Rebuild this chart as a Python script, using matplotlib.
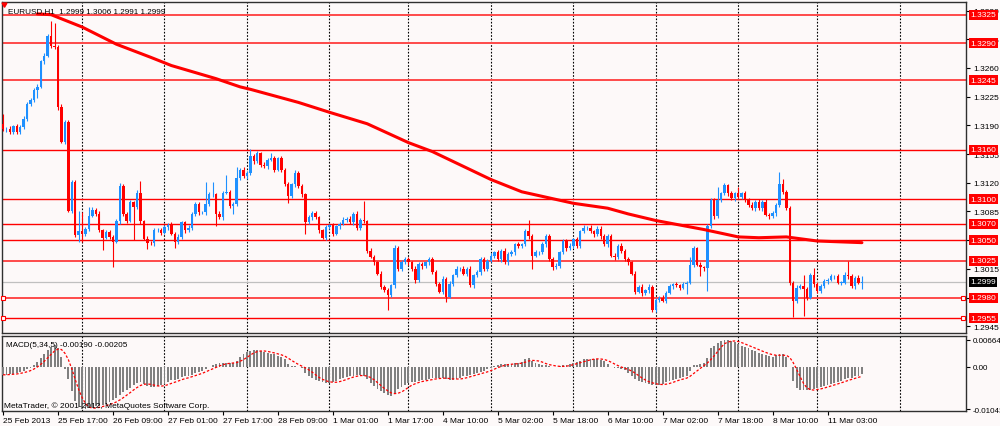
import numpy as np
import pandas as pd
import matplotlib
matplotlib.use('Agg')
import matplotlib.pyplot as plt
from matplotlib import rcParams

rcParams['font.family'] = ['Liberation Sans', 'DejaVu Sans']
rcParams['font.size'] = 6

######################################
# data (EURUSD H1)
# prices are in pips above 1.2900
######################################
base = 1.2900
first_open = 292

closes = [285, 286, 282, 289, 282, 288, 298, 316, 321, 333,
          337, 368, 375, 399, 387, 385, 312, 270, 294, 186,
          221, 156, 161, 157, 164, 180, 187, 182, 162, 153,
          160, 154, 148, 173, 216, 182, 174, 196, 190, 208,
          173, 152, 147, 146, 162, 163, 159, 166, 169, 158,
          148, 154, 172, 162, 165, 182, 194, 184, 184, 194,
          206, 206, 182, 178, 208, 209, 192, 194, 226, 236,
          228, 232, 253, 246, 256, 242, 240, 248, 250, 236,
          250, 236, 218, 204, 218, 232, 216, 206, 172, 178,
          183, 178, 162, 153, 166, 168, 158, 167, 170, 175,
          176, 172, 182, 165, 175, 173, 137, 130, 123, 109,
          93, 89, 83, 95, 141, 115, 123, 127, 123, 115,
          101, 121, 118, 123, 127, 111, 97, 87, 103, 81,
          97, 107, 115, 115, 109, 115, 95, 107, 111, 127,
          115, 125, 131, 135, 127, 137, 123, 133, 135, 145,
          143, 145, 161, 155, 131, 135, 135, 145, 155, 127,
          117, 119, 135, 149, 140, 143, 151, 143, 161, 165,
          165, 161, 157, 164, 155, 145, 155, 131, 129, 143,
          137, 127, 123, 109, 87, 93, 85, 89, 93, 65,
          77, 80, 76, 86, 94, 96, 95, 92, 96, 98,
          120, 140, 120, 117, 116, 167, 199, 179, 199, 207,
          217, 207, 201, 207, 203, 207, 199, 193, 189, 197,
          189, 197, 181, 179, 183, 193, 219, 209, 189, 98,
          76, 92, 94, 90, 80, 108, 96, 88, 94, 100,
          102, 106, 106, 98, 98, 108, 106, 94, 104, 98,
          99]

upper_wick = [12, 2, 3, 2, 3, 2, 3, 2, 3, 2,
              3, 2, 3, 2, 18, 28, 3, 4, 3, 2,
              3, 2, 25, 23, 2, 10, 3, 2, 3, 2,
              3, 2, 2, 3, 4, 3, 2, 3, 2, 3,
              14, 2, 3, 2, 3, 2, 2, 3, 2, 3,
              2, 3, 2, 2, 3, 2, 3, 2, 2, 27,
              3, 15, 2, 3, 2, 21, 2, 3, 13, 2,
              3, 2, 8, 2, 3, 2, 3, 2, 6, 3,
              2, 3, 2, 3, 2, 4, 2, 3, 2, 3,
              2, 3, 2, 2, 3, 2, 3, 2, 2, 3,
              2, 3, 2, 3, 2, 23, 2, 3, 2, 2,
              3, 2, 3, 2, 3, 2, 3, 2, 3, 2,
              3, 2, 3, 2, 3, 2, 3, 2, 3, 2,
              3, 2, 3, 2, 3, 2, 3, 2, 3, 2,
              3, 2, 3, 2, 3, 2, 3, 2, 3, 2,
              3, 2, 3, 14, 2, 3, 2, 3, 2, 3,
              2, 3, 2, 3, 2, 3, 2, 3, 2, 3,
              2, 3, 2, 3, 3, 2, 3, 2, 3, 2,
              3, 2, 3, 2, 3, 2, 3, 2, 3, 2,
              3, 2, 3, 2, 3, 2, 3, 2, 3, 2,
              10, 3, 2, 3, 2, 3, 2, 3, 16, 2,
              3, 2, 3, 2, 8, 2, 3, 2, 3, 2,
              3, 2, 3, 2, 3, 2, 14, 6, 2, 3,
              2, 3, 2, 14, 3, 2, 8, 3, 2, 3,
              2, 3, 2, 3, 2, 3, 17, 3, 2, 3,
              7]

lower_wick = [2, 3, 2, 3, 2, 3, 2, 3, 2, 3,
              9, 2, 3, 2, 3, 2, 3, 2, 3, 2,
              3, 2, 8, 9, 2, 3, 2, 3, 2, 15,
              2, 3, 31, 2, 3, 2, 3, 2, 40, 2,
              3, 2, 8, 2, 3, 2, 3, 2, 3, 2,
              8, 3, 2, 3, 2, 3, 2, 3, 2, 3,
              2, 3, 15, 2, 3, 2, 3, 10, 2, 3,
              2, 3, 2, 3, 2, 3, 2, 3, 2, 3,
              2, 3, 2, 9, 2, 3, 2, 3, 15, 2,
              3, 2, 3, 2, 3, 2, 3, 2, 3, 2,
              3, 2, 3, 2, 3, 2, 3, 2, 3, 2,
              3, 2, 18, 2, 3, 2, 3, 2, 3, 2,
              3, 2, 3, 2, 3, 2, 3, 2, 3, 6,
              2, 3, 2, 3, 2, 3, 2, 3, 2, 3,
              2, 3, 2, 3, 2, 3, 2, 3, 2, 3,
              2, 3, 2, 3, 16, 2, 3, 2, 3, 2,
              3, 2, 3, 2, 3, 2, 3, 2, 3, 2,
              3, 2, 3, 2, 3, 2, 3, 2, 3, 2,
              3, 2, 3, 2, 3, 2, 3, 2, 3, 3,
              2, 3, 2, 3, 2, 3, 2, 3, 2, 12,
              2, 3, 2, 11, 3, 28, 2, 3, 2, 3,
              2, 3, 2, 3, 2, 3, 2, 3, 2, 3,
              2, 3, 2, 3, 2, 3, 2, 3, 2, 3,
              20, 3, 2, 32, 3, 2, 3, 2, 3, 2,
              3, 2, 3, 2, 3, 2, 3, 2, 3, 2,
              7]

# moving average line (bar index, pips)
ma_bars = [10, 14, 23, 33, 43, 49, 62, 69, 72, 86, 95, 106, 118, 125,
           142, 151, 166, 176, 182, 190, 204, 214, 220, 228, 237, 250]
ma_pips = [426, 425, 410, 389, 373, 363, 347, 337, 334, 318, 306, 292, 269, 258,
           224, 209, 195, 189, 182, 174, 163, 154, 153, 154, 149, 147]

# MACD(5,34,5) main values, units of 0.0001
macd_main = [-20, -20, -18, -17, -15, -13, -11, -7, -3, 5,
             12, 22, 30, 40, 48, 53, 45, 25, -5, -30,
             -60, -85, -100, -104, -104, -103, -100, -98, -96, -94,
             -91, -88, -83, -78, -70, -63, -57, -52, -45, -40,
             -38, -42, -48, -50, -50, -47, -45, -42, -38, -34,
             -33, -30, -26, -24, -24, -20, -16, -12, -10, -6,
             -2, 3, 6, 8, 9, 9, 9, 10, 14, 24,
             30, 36, 39, 40, 40, 38, 36, 34, 31, 30,
             27, 24, 18, 6, 2, 1, 0, -3, -15, -22,
             -28, -32, -36, -38, -40, -40, -38, -36, -30, -28,
             -25, -23, -22, -20, -20, -24, -30, -40, -47, -55,
             -60, -66, -70, -72, -64, -55, -50, -45, -40, -38,
             -37, -35, -33, -32, -30, -28, -28, -28, -28, -30,
             -32, -32, -30, -28, -24, -22, -20, -18, -16, -13,
             -10, -7, -3, 2, 5, 6, 6, 6, 7, 8,
             10, 12, 18, 22, 15, 8, 6, 5, 4, 2,
             -1, -2, 1, 3, 5, 7, 9, 12, 15, 18,
             19, 20, 20, 19, 16, 13, 7, 0, -3, -4,
             -5, -8, -15, -22, -30, -35, -38, -40, -42, -44,
             -46, -46, -42, -38, -35, -33, -30, -28, -26, -24,
             -10, 3, 5, 6, 8, 22, 45, 52, 58, 62,
             65, 66, 63, 60, 55, 52, 49, 46, 42, 38,
             34, 32, 29, 27, 25, 28, 32, 30, 25, -2,
             -35, -52, -58, -58, -58, -58, -56, -52, -50, -48,
             -45, -42, -40, -37, -35, -30, -28, -27, -24, -22,
             -19]

# user horizontal lines, and which ones are drawn lighter/thicker
hlines = [1.3325, 1.3290, 1.3245, 1.3160, 1.3100, 1.3070, 1.3050, 1.3025, 1.2980, 1.2955]
hl_light = [True, True, True, False, False, False, False, True, True, False]
hl_marked = [1.2980, 1.2955]
last_price = 1.2999

price_ticks = [1.3330, 1.3295, 1.3260, 1.3225, 1.3190, 1.3155, 1.3120,
               1.3085, 1.3050, 1.3015, 1.2980, 1.2945]
hidden_ticks = [1.3050, 1.2980]   # fully covered by the line labels

time_pos = [0, 16, 32, 48, 64, 80, 96, 112, 128, 144, 160, 176, 192, 208, 224, 240]
time_labels = ['25 Feb 2013', '25 Feb 17:00', '26 Feb 09:00', '27 Feb 01:00',
               '27 Feb 17:00', '28 Feb 09:00', '1 Mar 01:00', '1 Mar 17:00',
               '4 Mar 10:00', '5 Mar 02:00', '5 Mar 18:00', '6 Mar 10:00',
               '7 Mar 02:00', '7 Mar 18:00', '8 Mar 10:00', '11 Mar 03:00']
grid_bars = [23, 47, 71, 95, 118, 142, 166, 190, 214, 237, 261]

############################################################

bg = '#fdf9f9'
bull = '#1e90ff'
bear = '#ff0000'

c = base + np.array(closes) / 1e4
o = np.concatenate([[base + first_open / 1e4], c[:-1]])
hi = np.maximum(o, c) + np.array(upper_wick) / 1e4
lo = np.minimum(o, c) - np.array(lower_wick) / 1e4
xs = np.arange(len(c))

fig = plt.figure(figsize=(10, 4.27), dpi=100, facecolor=bg)
ax = fig.add_axes([0.002, 0.2178, 0.964, 0.7752])
axm = fig.add_axes([0.002, 0.0351, 0.964, 0.1757])

for a in (ax, axm):
    a.set_facecolor(bg)
    a.set_xlim(-0.3, 280.3)
    for s in a.spines.values():
        s.set_linewidth(1.0)
        s.set_color('#303030')
    for g in grid_bars:
        a.axvline(g, color='black', ls=(0, (1.5, 1.5)), lw=0.8, zorder=1)

# ---- main price pane
ax.set_ylim(1.29368, 1.33405)

for p, light in zip(hlines, hl_light):
    if light:
        ax.axhline(p, color='#ff4a4a', lw=1.4, zorder=2)
    else:
        ax.axhline(p, color='#ff0000', lw=1.0, zorder=2)
ax.axhline(last_price, color='#c0c0c0', lw=0.9, zorder=1.5)
for p in hl_marked:
    ax.plot([0.1, 279.4], [p, p], ls='none', marker='s', ms=3.2,
            mfc='white', mec='#ff0000', mew=0.8, zorder=6, clip_on=False)

up = c >= o
body_bot = np.minimum(o, c)
body_h = np.maximum(np.abs(c - o), 0.00004)
cols = np.where(up, bull, bear)
ax.vlines(xs, lo, hi, colors=cols, lw=0.8, zorder=3)
ax.bar(xs, body_h, bottom=body_bot, width=0.72, color=cols, linewidth=0, zorder=4)

ax.plot(ma_bars, base + np.array(ma_pips) / 1e4, color='#ff0000', lw=2.2,
        solid_capstyle='round', solid_joinstyle='round', zorder=5)

ax.set_xticks([])
ax.yaxis.tick_right()
ax.set_yticks(price_ticks)
ax.set_yticklabels(['' if p in hidden_ticks else '%.4f' % p for p in price_ticks])
ax.tick_params(axis='y', length=3, width=0.8, pad=2, labelsize=6, colors='black')

for p in hlines:
    ax.text(1.0045, p, '%.4f' % p, transform=ax.get_yaxis_transform(), ha='left',
            va='center', color='white', fontsize=6, clip_on=False, zorder=10,
            bbox=dict(boxstyle='square,pad=0.18', fc='#ff0000', ec='none'))
ax.text(1.0045, last_price, '%.4f' % last_price, transform=ax.get_yaxis_transform(),
        ha='left', va='center', color='white', fontsize=6, clip_on=False, zorder=10,
        bbox=dict(boxstyle='square,pad=0.18', fc='black', ec='none'))

ax.text(0.006, 0.985, 'EURUSD,H1  1.2999 1.3006 1.2991 1.2999', transform=ax.transAxes,
        ha='left', va='top', fontsize=5.9, color='black', zorder=10)
ax.plot([0.2], [1.3338], marker=(3, 0, 180), color='#ff0000', ms=4, zorder=10, clip_on=False)

# ---- MACD pane
macd = np.array(macd_main) / 1e4
signal = pd.Series(macd).rolling(5, min_periods=1).mean()
axm.set_ylim(-0.01092, 0.00755)
axm.bar(xs, macd, width=0.55, color='#808080', linewidth=0, zorder=3)
axm.plot(xs, signal, color='#ff0000', lw=0.9, ls=(0, (2, 1.5)), zorder=4)

axm.yaxis.tick_right()
axm.set_yticks([0.00664, 0.0, -0.01043])
axm.set_yticklabels(['0.00664', '0.00', '-0.01043'])
axm.tick_params(axis='y', length=3, width=0.8, pad=2, labelsize=5.8, colors='black')

axm.set_xticks(time_pos)
axm.set_xticklabels(time_labels)
axm.tick_params(axis='x', length=3, width=0.8, pad=1.5, labelsize=6, colors='black')
for t in axm.get_xticklabels():
    t.set_ha('left')

axm.text(0.004, 0.93, 'MACD(5,34,5) -0.00190 -0.00205', transform=axm.transAxes,
         ha='left', va='top', fontsize=5.9, color='black', zorder=10)
axm.text(0.002, 0.03, 'MetaTrader, \u00a9 2001-2012, MetaQuotes Software Corp.',
         transform=axm.transAxes, ha='left', va='bottom', fontsize=6, color='black', zorder=10)

fig.savefig('out.png', dpi=100, facecolor=bg)
